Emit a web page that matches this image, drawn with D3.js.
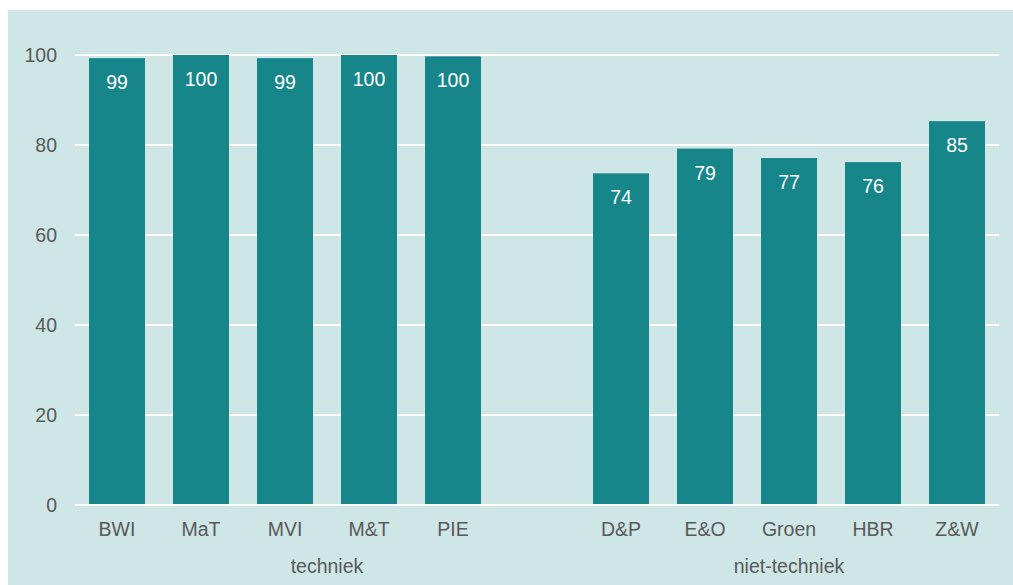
<!DOCTYPE html>
<meta charset="utf-8">
<style>
body{ margin:0; background:#fff; }
text{ font-family:"Liberation Sans", Arial, sans-serif; }
.axis text{ fill:#595959; font-size:19.5px; }
.val{ fill:#fff; font-size:19.5px; text-anchor:middle; }
.grid line{ stroke:#fff; stroke-width:2px; }
</style>
<body>
<div id="chart"></div>
<script src="https://d3js.org/d3.v7.min.js"></script>
<script>
// categories (empty slot "" separates the two groups)
var categories = ["BWI","MaT","MVI","M&T","PIE","","D&P","E&O","Groen","HBR","Z&W"];
var values     = [99.3, 100, 99.3, 100, 99.7, null, 73.7, 79.2, 77.1, 76.2, 85.3];
var labels     = ["99","100","99","100","100","","74","79","77","76","85"];
var groups     = [{name:"techniek", from:"BWI", to:""}, {name:"niet-techniek", from:"D&P", to:"Z&W"}];
var yTicks     = [0,20,40,60,80,100];

var W = 1013, H = 585;
var svg = d3.select("#chart").append("svg").attr("width",W).attr("height",H);

svg.append("rect").attr("x",8).attr("y",10).attr("width",W-8).attr("height",H-10)
    .attr("fill","#cfe6e6");

var x = d3.scaleBand().domain(d3.range(categories.length)).range([75,999])
    .paddingInner(1/3).paddingOuter(1/6);
var y = d3.scaleLinear().domain([0,100]).range([505,55]);

// gridlines
svg.append("g").attr("class","grid").selectAll("line").data(yTicks).join("line")
    .attr("x1",75).attr("x2",999)
    .attr("y1",d=>y(d)).attr("y2",d=>y(d));

// y labels
svg.append("g").attr("class","axis").selectAll("text").data(yTicks).join("text")
    .attr("x",57).attr("y",d=>y(d)+7).attr("text-anchor","end").text(d=>d);

// bars
var idx = d3.range(categories.length).filter(i=>values[i]!=null);
svg.append("g").selectAll("rect").data(idx).join("rect")
    .attr("x",i=>x(i)).attr("width",x.bandwidth())
    .attr("y",i=>y(values[i])).attr("height",i=>y(0)-y(values[i]))
    .attr("fill","#17868a");

svg.append("g").selectAll("text").data(idx).join("text").attr("class","val")
    .attr("x",i=>x(i)+x.bandwidth()/2).attr("y",i=>y(values[i])+31)
    .text(i=>labels[i]);

// redraw baseline over bars
svg.append("line").attr("x1",75).attr("x2",999).attr("y1",y(0)).attr("y2",y(0))
    .attr("stroke","#fff").attr("stroke-width",2);

// category labels
svg.append("g").attr("class","axis").selectAll("text").data(idx).join("text")
    .attr("x",i=>x(i)+x.bandwidth()/2).attr("y",536).attr("text-anchor","middle")
    .text(i=>categories[i]);

// group labels
var step = x.step();
svg.append("g").attr("class","axis").selectAll("text").data(groups).join("text")
    .attr("x",function(g){
        var a = categories.indexOf(g.from), b = categories.indexOf(g.to);
        return (x(a) - x.paddingInner()*step/2 + x(b) + x.bandwidth() + x.paddingInner()*step/2)/2;
    })
    .attr("y",573).attr("text-anchor","middle").text(g=>g.name);
</script>
</body>
</html>
